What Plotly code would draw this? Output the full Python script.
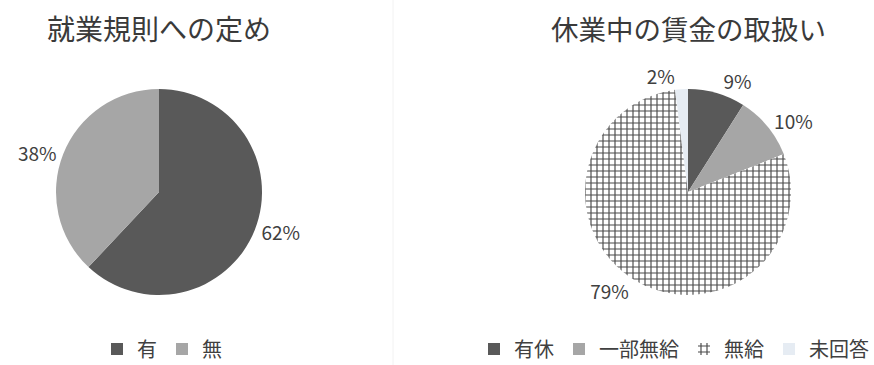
import plotly.graph_objects as go

# Left chart: whether work rules define it
rules_labels = ["有", "無"]
rules_values = [62, 38]

# Right chart: handling of wages during leave
wage_labels = ["有休", "一部無給", "無給", "未回答"]
wage_values = [9, 10, 79, 2]

title_left = "就業規則への定め"
title_right = "休業中の賃金の取扱い"

W, H = 874, 365
FONT = "Noto Sans CJK JP"
TEXT = "#404040"

DARK = "#595959"
LIGHT = "#a6a6a6"
PALE = "#e6ecf3"


def dom_x(cx, r):
    return [(cx - r) / W, (cx + r) / W]


def dom_y(cy, r):
    return [(H - cy - r) / H, (H - cy + r) / H]


fig = go.Figure()

fig.add_trace(go.Pie(
    labels=rules_labels,
    values=rules_values,
    sort=False,
    direction="clockwise",
    rotation=0,
    domain=dict(x=dom_x(159, 103), y=dom_y(192, 103)),
    marker=dict(colors=[DARK, LIGHT], line=dict(width=0)),
    texttemplate="%{value}%",
    textposition="outside",
    textfont=dict(family=FONT, size=19, color=TEXT),
    hoverinfo="label+value",
    legend="legend",
))

fig.add_trace(go.Pie(
    labels=wage_labels,
    values=wage_values,
    sort=False,
    direction="clockwise",
    rotation=0,
    domain=dict(x=dom_x(688, 103), y=dom_y(192, 103)),
    marker=dict(
        colors=[DARK, LIGHT, "#ffffff", PALE],
        line=dict(width=0),
        pattern=dict(
            shape=["", "", "+", ""],
            size=6,
            solidity=0.35,
            fgcolor="#4a4a4a",
            bgcolor="#ffffff",
        ),
    ),
    texttemplate="%{value}%",
    textposition="outside",
    textfont=dict(family=FONT, size=19, color=TEXT),
    hoverinfo="label+value",
    legend="legend2",
))

legend_common = dict(
    orientation="h",
    font=dict(family=FONT, size=20, color=TEXT),
    bgcolor="rgba(0,0,0,0)",
    yanchor="middle",
    y=(H - 349) / H,
    itemwidth=30,
    tracegroupgap=0,
)

fig.update_layout(
    width=W,
    height=H,
    margin=dict(l=0, r=0, t=0, b=0, autoexpand=False),
    paper_bgcolor="white",
    plot_bgcolor="white",
    font=dict(family=FONT, color=TEXT),
    showlegend=True,
    legend=dict(xanchor="center", x=162 / W, **legend_common),
    legend2=dict(xanchor="right", x=1.0, **legend_common),
    annotations=[
        dict(text=title_left, x=159 / W, y=(H - 28) / H, xref="paper", yref="paper",
             showarrow=False, xanchor="center", yanchor="middle",
             font=dict(family=FONT, size=28, color="#3a3a3a")),
        dict(text=title_right, x=688 / W, y=(H - 28) / H, xref="paper", yref="paper",
             showarrow=False, xanchor="center", yanchor="middle",
             font=dict(family=FONT, size=27.5, color="#3a3a3a")),
    ],
    shapes=[
        dict(type="line", xref="paper", yref="paper",
             x0=393 / W, x1=393 / W, y0=0, y1=1,
             line=dict(color="#f2f2f2", width=1)),
    ],
)

fig.write_html("out.html")
